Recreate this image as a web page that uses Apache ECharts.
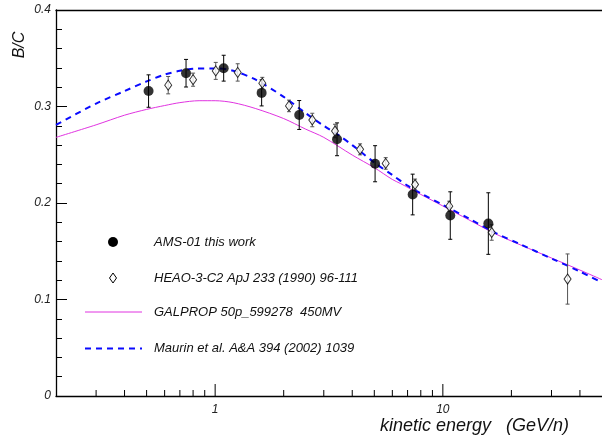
<!DOCTYPE html>
<html>
<head>
<meta charset="utf-8">
<script src="https://cdn.jsdelivr.net/npm/echarts@6/dist/echarts.min.js"></script>
<style>
  html, body { margin: 0; padding: 0; background: #fff; }
  #chart { width: 602px; height: 436px; }
</style>
</head>
<body>
<div id="chart"></div>
<script>
// AMS-01 boron-to-carbon ratio: energy (GeV/n), B/C, error
const amsEnergy = [0.51, 0.745, 1.09, 1.60, 2.34, 3.43, 5.04, 7.37, 10.78, 15.84];
const amsRatio  = [0.316, 0.3345, 0.3397, 0.3141, 0.2912, 0.266, 0.2407, 0.2088, 0.187, 0.1787];
const amsError  = [0.0168, 0.0143, 0.0134, 0.0135, 0.015, 0.017, 0.0187, 0.0211, 0.0246, 0.0319];

// HEAO-3-C2 measurements
const heaoEnergy = [0.622, 0.80, 1.006, 1.256, 1.611, 2.11, 2.67, 3.36, 4.33, 5.61, 7.55, 10.67, 16.39, 35.3];
const heaoRatio  = [0.3221, 0.3278, 0.3369, 0.3353, 0.3242, 0.3006, 0.286, 0.2746, 0.2556, 0.241, 0.2192, 0.1967, 0.1694, 0.1212];
const heaoError  = [0.009, 0.0068, 0.0088, 0.009, 0.006, 0.006, 0.007, 0.007, 0.0057, 0.006, 0.0056, 0.0052, 0.008, 0.026];

// GALPROP 50p_599278, 450 MV modulation
const galpropEnergy = [0.2, 0.3, 0.4, 0.5, 0.6, 0.7, 0.85, 1.0, 1.2, 1.5, 2.0, 2.5, 3.0, 4.0, 5.0, 6.0, 6.5, 8.0, 10, 13, 17, 22, 30, 40, 50];
const galpropRatio  = [0.268, 0.281, 0.291, 0.297, 0.301, 0.304, 0.306, 0.306, 0.304, 0.298, 0.2875, 0.2765, 0.268, 0.2497, 0.2366, 0.2244, 0.2203, 0.2089, 0.1969, 0.1826, 0.1681, 0.1564, 0.143, 0.1305, 0.1205];

// Maurin et al. (2002) model
const maurinEnergy = [0.2, 0.3, 0.4, 0.5, 0.6, 0.7, 0.8, 1.0, 1.2, 1.5, 2.0, 2.5, 3.0, 3.5, 4.0, 5.0, 6.0, 7.0, 8.0, 10, 13, 17, 22, 30, 40, 50];
const maurinRatio  = [0.281, 0.303, 0.316, 0.326, 0.333, 0.337, 0.339, 0.3395, 0.337, 0.328, 0.31, 0.293, 0.28, 0.27, 0.26, 0.242, 0.229, 0.218, 0.21, 0.198, 0.184, 0.169, 0.157, 0.1425, 0.129, 0.1175];

// Log-axis tick marks along the energy axis
const xMinorTicks = [0.3, 0.4, 0.5, 0.6, 0.7, 0.8, 0.9, 2, 3, 4, 5, 6, 7, 8, 9, 20, 30, 40];
const xMajorTicks = [1, 10];
const xTickLabels = ['1', '10'];

const FONT = "'Liberation Sans', Arial, Helvetica, sans-serif";

const zip = (xs, ys, es) => xs.map((x, i) => es ? [x, ys[i], es[i]] : [x, ys[i]]);

function errorBars(color) {
  return function (params, api) {
    const x = api.value(0), y = api.value(1), e = api.value(2);
    const top = api.coord([x, y + e]);
    const bot = api.coord([x, y - e]);
    const c = 2;
    const style = { stroke: color, lineWidth: 1 };
    return {
      type: 'group',
      children: [
        { type: 'line', shape: { x1: top[0], y1: top[1], x2: bot[0], y2: bot[1] }, style },
        { type: 'line', shape: { x1: top[0] - c, y1: top[1], x2: top[0] + c, y2: top[1] }, style },
        { type: 'line', shape: { x1: bot[0] - c, y1: bot[1], x2: bot[0] + c, y2: bot[1] }, style }
      ]
    };
  };
}

function xTicks(len) {
  return function (params, api) {
    const p = api.coord([api.value(0), 0]);
    return {
      type: 'line',
      shape: { x1: p[0], y1: p[1], x2: p[0], y2: p[1] - len },
      style: { stroke: '#000', lineWidth: 1 }
    };
  };
}

function xLabels(params, api) {
  const p = api.coord([api.value(0), 0]);
  return {
    type: 'text',
    x: p[0], y: p[1] + 14,
    style: {
      text: xTickLabels[params.dataIndex],
      font: 'italic 12px ' + FONT,
      fill: '#222',
      align: 'center',
      verticalAlign: 'middle'
    }
  };
}

const chart = echarts.init(document.getElementById('chart'), null, { renderer: 'canvas' });

const diamond = 'path://M5,0 L10,7 L5,14 L0,7 Z';

chart.setOption({
  animation: false,
  backgroundColor: '#fff',
  grid: { left: 56, top: 10, right: 0, bottom: 40, show: false },
  xAxis: [
    {
      type: 'log', min: 0.2, max: 50, position: 'bottom',
      axisLine: { show: true, lineStyle: { color: '#000', width: 1.3 } },
      axisTick: { show: false }, axisLabel: { show: false },
      minorTick: { show: false }, splitLine: { show: false }
    },
    {
      type: 'log', min: 0.2, max: 50, position: 'top',
      axisLine: { show: true, lineStyle: { color: '#000', width: 1.3 } },
      axisTick: { show: false }, axisLabel: { show: false }, splitLine: { show: false }
    }
  ],
  yAxis: {
    type: 'value', min: 0, max: 0.4, interval: 0.1,
    axisLine: { show: true, lineStyle: { color: '#000', width: 1.3 } },
    axisTick: { show: true, inside: true, length: 11, lineStyle: { color: '#000' } },
    minorTick: { show: true, splitNumber: 5, length: 6, lineStyle: { color: '#000' } },
    splitLine: { show: false },
    axisLabel: {
      margin: 5,
      formatter: v => (v === 0 ? '0' : v.toFixed(1)),
      fontFamily: FONT, fontStyle: 'italic', fontSize: 12, color: '#222'
    }
  },
  series: [
    {
      name: 'GALPROP 50p_599278  450MV', type: 'line', smooth: 0.3, showSymbol: false,
      data: zip(galpropEnergy, galpropRatio),
      lineStyle: { color: '#e033e0', width: 1 }, z: 2
    },
    {
      name: 'Maurin et al. A&A 394 (2002) 1039', type: 'line', smooth: 0.3, showSymbol: false,
      data: zip(maurinEnergy, maurinRatio),
      lineStyle: { color: '#0a0aff', width: 2, type: [6, 5] }, z: 3
    },
    {
      type: 'custom', renderItem: xTicks(6), data: xMinorTicks.map(v => [v, 0]),
      encode: { x: 0, y: 1 }, silent: true, z: 4
    },
    {
      type: 'custom', renderItem: xTicks(12), data: xMajorTicks.map(v => [v, 0]),
      encode: { x: 0, y: 1 }, silent: true, z: 4
    },
    {
      type: 'custom', renderItem: xLabels, data: xMajorTicks.map(v => [v, 0]),
      encode: { x: 0, y: 1 }, silent: true, clip: false, z: 4
    },
    {
      type: 'custom', renderItem: errorBars('#000'), data: zip(amsEnergy, amsRatio, amsError),
      encode: { x: 0, y: 1 }, z: 5
    },
    {
      type: 'custom', renderItem: errorBars('#555'), data: zip(heaoEnergy, heaoRatio, heaoError),
      encode: { x: 0, y: 1 }, z: 5
    },
    {
      name: 'AMS-01 this work', type: 'scatter', data: zip(amsEnergy, amsRatio),
      symbol: 'circle', symbolSize: 10, itemStyle: { color: '#000' }, z: 6
    },
    {
      name: 'HEAO-3-C2 ApJ 233 (1990) 96-111', type: 'scatter', data: zip(heaoEnergy, heaoRatio),
      symbol: diamond, symbolSize: [7, 10],
      itemStyle: { color: '#fff', borderColor: '#000', borderWidth: 1 }, z: 7
    }
  ],
  graphic: [
    // axis titles
    {
      type: 'text', x: 20, y: 45, rotation: Math.PI / 2,
      style: { text: 'B/C', font: 'italic 16px ' + FONT, fill: '#111', align: 'center', verticalAlign: 'middle' }
    },
    {
      type: 'text', x: 380, y: 426,
      style: { text: 'kinetic energy   (GeV/n)', font: 'italic 18px ' + FONT, fill: '#111', align: 'left', verticalAlign: 'middle' }
    },
    // legend
    { type: 'circle', shape: { cx: 113, cy: 242, r: 5 }, style: { fill: '#000' } },
    {
      type: 'polygon', shape: { points: [[113, 273], [116.5, 278], [113, 283], [109.5, 278]] },
      style: { fill: '#fff', stroke: '#000', lineWidth: 1 }
    },
    { type: 'line', shape: { x1: 85, y1: 312, x2: 142, y2: 312 }, style: { stroke: '#e033e0', lineWidth: 1 } },
    { type: 'line', shape: { x1: 85, y1: 348.5, x2: 142, y2: 348.5 }, style: { stroke: '#0a0aff', lineWidth: 2, lineDash: [6, 5] } },
    { type: 'text', x: 154, y: 242, style: { text: 'AMS-01 this work', font: 'italic 13px ' + FONT, fill: '#111', verticalAlign: 'middle' } },
    { type: 'text', x: 154, y: 278, style: { text: 'HEAO-3-C2 ApJ 233 (1990) 96-111', font: 'italic 13px ' + FONT, fill: '#111', verticalAlign: 'middle' } },
    { type: 'text', x: 154, y: 312, style: { text: 'GALPROP 50p_599278  450MV', font: 'italic 13px ' + FONT, fill: '#111', verticalAlign: 'middle' } },
    { type: 'text', x: 154, y: 348, style: { text: 'Maurin et al. A&A 394 (2002) 1039', font: 'italic 13px ' + FONT, fill: '#111', verticalAlign: 'middle' } }
  ]
});
</script>
</body>
</html>
